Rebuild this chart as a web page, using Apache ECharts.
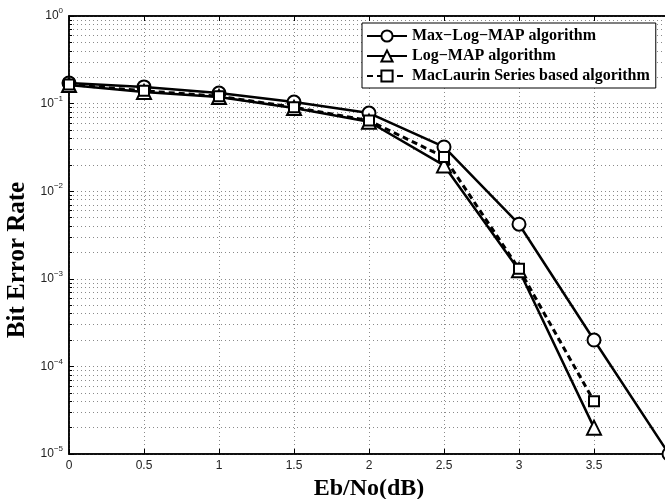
<!DOCTYPE html>
<html>
<head>
<meta charset="utf-8">
<script src="https://cdn.jsdelivr.net/npm/echarts@6/dist/echarts.min.js"></script>
<style>
html,body{margin:0;padding:0;background:#fff;}
#c{width:665px;height:499px;}
</style>
</head>
<body>
<div id="c"></div>
<script>
var ebno = [0, 0.5, 1, 1.5, 2, 2.5, 3, 3.5, 4];
var maxLogMap = [0.172, 0.155, 0.132, 0.104, 0.078, 0.032, 0.0042, 0.0002, 0.00001];
var logMap = [0.163, 0.136, 0.119, 0.089, 0.062, 0.0197, 0.00125, 0.00002];
var maclaurin = [0.165, 0.14, 0.121, 0.091, 0.064, 0.0246, 0.0013, 0.00004];
var xTicks = ['0', '0.5', '1', '1.5', '2', '2.5', '3', '3.5', '4'];
var seriesNames = ['Max\u2212Log\u2212MAP algorithm', 'Log\u2212MAP algorithm', 'MacLaurin Series based algorithm'];

function pairs(xs, ys) {
  var out = [];
  for (var i = 0; i < ys.length; i++) out.push([xs[i], ys[i]]);
  return out;
}

var chart = echarts.init(document.getElementById('c'), null, {renderer: 'canvas'});
var gridLine = {show: true, lineStyle: {color: '#8a8a8a', width: 1, type: [1, 3]}};
var tickStyle = {show: true, inside: true, length: 5, lineStyle: {color: '#000', width: 1}};

var option = {
  backgroundColor: '#fff',
  animation: false,
  grid: {left: 69, top: 16, width: 600, height: 438, show: true, borderColor: '#000', borderWidth: 1.5,
    backgroundColor: 'transparent', containLabel: false, outerBoundsMode: 'none'},
  legend: {
    orient: 'vertical', left: 362, top: 23,
    data: seriesNames,
    itemWidth: 40, itemHeight: 14, itemGap: 4,
    padding: [5, 6, 4, 4],
    backgroundColor: '#fff', borderColor: '#000', borderWidth: 1,
    textStyle: {fontFamily: 'Liberation Serif', fontWeight: 'bold', fontSize: 16, color: '#000'}
  },
  xAxis: [{
    type: 'value', min: 0, max: 4, interval: 0.5,
    name: 'Eb/No(dB)', nameLocation: 'middle', nameGap: 19,
    nameTextStyle: {fontFamily: 'Liberation Serif', fontWeight: 'bold', fontSize: 24, color: '#000'},
    axisLine: {show: true, lineStyle: {color: '#000', width: 1.5}},
    axisTick: tickStyle,
    axisLabel: {fontFamily: 'Liberation Sans', fontSize: 12, color: '#222', margin: 6,
      formatter: function (v) { var i = Math.round(v / 0.5); return xTicks[i] !== undefined ? xTicks[i] : ''; }},
    splitLine: gridLine
  }, {
    type: 'value', min: 0, max: 4, interval: 0.5, position: 'top',
    axisLine: {show: true, lineStyle: {color: '#000', width: 1.5}},
    axisTick: tickStyle, axisLabel: {show: false}, splitLine: {show: false}
  }],
  yAxis: [{
    type: 'log', logBase: 10, min: 0.00001, max: 1,
    name: 'Bit Error Rate', nameLocation: 'middle', nameGap: 31,
    nameTextStyle: {fontFamily: 'Liberation Serif', fontWeight: 'bold', fontSize: 25, color: '#000', padding: [0, 50, 0, 0]},
    axisLine: {show: true, lineStyle: {color: '#000', width: 1.5}},
    axisTick: tickStyle,
    minorTick: {show: true, splitNumber: 9, length: 3, lineStyle: {color: '#000', width: 1}},
    minorSplitLine: gridLine,
    splitLine: gridLine,
    axisLabel: {
      margin: 6,
      formatter: function (v) {
        var e = Math.round(Math.log(v) / Math.LN10);
        return '{b|10}{s|' + (e === 0 ? '0' : '\u2212' + Math.abs(e)) + '}';
      },
      rich: {
        b: {fontFamily: 'Liberation Sans', fontSize: 12, color: '#222'},
        s: {fontFamily: 'Liberation Sans', fontSize: 8, color: '#222', padding: [0, 0, 10, 0]}
      }
    }
  }],
  series: [{
    name: seriesNames[0], type: 'line', data: pairs(ebno, maxLogMap),
    symbol: 'circle', symbolSize: 13,
    itemStyle: {color: '#fff', borderColor: '#000', borderWidth: 2},
    lineStyle: {color: '#000', width: 2.5}
  }, {
    name: seriesNames[1], type: 'line', data: pairs(ebno, logMap),
    symbol: 'triangle', symbolSize: 14,
    itemStyle: {color: '#fff', borderColor: '#000', borderWidth: 2},
    lineStyle: {color: '#000', width: 2.5}
  }, {
    name: seriesNames[2], type: 'line', data: pairs(ebno, maclaurin),
    symbol: 'rect', symbolSize: 10,
    itemStyle: {color: '#fff', borderColor: '#000', borderWidth: 2},
    lineStyle: {color: '#000', width: 3, type: [6, 4]}
  }]
};
chart.setOption(option);
</script>
</body>
</html>
